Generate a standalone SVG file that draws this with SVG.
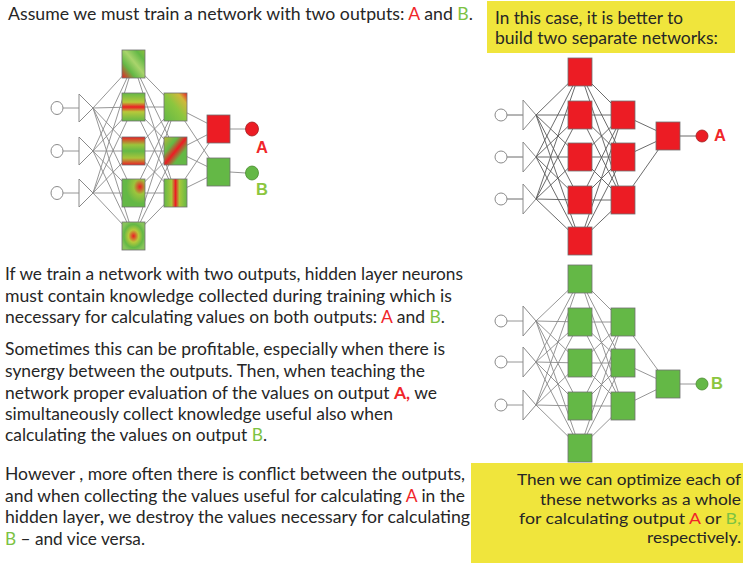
<svg xmlns="http://www.w3.org/2000/svg" width="743" height="563" viewBox="0 0 743 563">
<style>
.t{font-family:Lato,"Liberation Sans",sans-serif;font-size:16.3px;fill:#262626}
.tb{font-size:16px}
.ra{fill:#f0262a}
.gb{fill:#7cc242}
.lbl{font-family:"Liberation Sans",Arial,sans-serif;font-weight:bold;font-size:16.5px}
.cn{stroke:#8a8a8a;stroke-width:0.9;fill:none}
.cd{stroke:#5a5a5a;stroke-width:0.9;fill:none}
.inp{fill:#fff;stroke:#8a8a8a;stroke-width:1}
.tri{fill:#fff;stroke:#8a8a8a;stroke-width:1}
.sq{stroke:#707070;stroke-width:0.8}
.red{fill:#ec1c24}
.grn{fill:#64b846}
.box{fill:#f0e53c}
</style>
<defs>
<linearGradient id="g1" x1="0" y1="1" x2="1" y2="0"><stop offset="0" stop-color="#ec1c24"/><stop offset="0.3" stop-color="#64b846"/><stop offset="0.55" stop-color="#a9d46c"/><stop offset="0.8" stop-color="#64b846"/><stop offset="1" stop-color="#8cbf3c"/></linearGradient>
<linearGradient id="g2" x1="0" y1="0" x2="0" y2="1"><stop offset="0" stop-color="#64b846"/><stop offset="0.33" stop-color="#b8c93a"/><stop offset="0.5" stop-color="#ec1c24"/><stop offset="0.67" stop-color="#b8c93a"/><stop offset="1" stop-color="#64b846"/></linearGradient>
<linearGradient id="g3" x1="0" y1="0" x2="0" y2="1"><stop offset="0" stop-color="#ec1c24"/><stop offset="0.28" stop-color="#9cc43c"/><stop offset="0.5" stop-color="#64b846"/><stop offset="0.75" stop-color="#a8c43a"/><stop offset="1" stop-color="#ec1c24"/></linearGradient>
<radialGradient id="g4" cx="0.78" cy="0.28" r="0.6"><stop offset="0" stop-color="#ec1c24"/><stop offset="0.45" stop-color="#9cc43c"/><stop offset="1" stop-color="#64b846"/></radialGradient>
<radialGradient id="g5" cx="0.5" cy="0.5" r="0.55"><stop offset="0" stop-color="#ec1c24"/><stop offset="0.4" stop-color="#b8c93a"/><stop offset="0.75" stop-color="#64b846"/><stop offset="1" stop-color="#86c45a"/></radialGradient>
<linearGradient id="h1" x1="0" y1="1" x2="1" y2="0"><stop offset="0" stop-color="#64b846"/><stop offset="0.5" stop-color="#8cc63f"/><stop offset="0.8" stop-color="#d0b83a"/><stop offset="1" stop-color="#ec1c24"/></linearGradient>
<linearGradient id="h2" x1="0" y1="0" x2="1" y2="1"><stop offset="0" stop-color="#b8b83a"/><stop offset="0.3" stop-color="#64b846"/><stop offset="0.5" stop-color="#ec1c24"/><stop offset="0.7" stop-color="#64b846"/><stop offset="1" stop-color="#64b846"/></linearGradient>
<linearGradient id="h3" x1="0" y1="0" x2="1" y2="0"><stop offset="0" stop-color="#64b846"/><stop offset="0.33" stop-color="#a8c83a"/><stop offset="0.5" stop-color="#ec1c24"/><stop offset="0.67" stop-color="#a8c83a"/><stop offset="1" stop-color="#64b846"/></linearGradient>
</defs>
<rect width="743" height="563" fill="#fff"/>

<g id="boxes">
<rect id="box-top" class="box" x="487" y="1" width="248" height="52"/>
<rect id="box-bottom" class="box" x="471" y="463" width="272" height="100"/>
</g>

<g id="connectors">
<!-- left network -->
<path class="cn" d="M63 108H79M63 151H79M63 193H79"/>
<path class="cn" d="M93 108L133.5 64M93 108L133.5 107M93 108L133.5 151M93 108L133.5 193M93 108L133.5 236M93 151L133.5 64M93 151L133.5 107M93 151L133.5 151M93 151L133.5 193M93 151L133.5 236M93 193L133.5 64M93 193L133.5 107M93 193L133.5 151M93 193L133.5 193M93 193L133.5 236"/>
<path class="cn" d="M133.5 64L175.5 107M133.5 64L175.5 151M133.5 64L175.5 193M133.5 107L175.5 107M133.5 107L175.5 151M133.5 107L175.5 193M133.5 151L175.5 107M133.5 151L175.5 151M133.5 151L175.5 193M133.5 193L175.5 107M133.5 193L175.5 151M133.5 193L175.5 193M133.5 236L175.5 107M133.5 236L175.5 151M133.5 236L175.5 193"/>
<path class="cn" d="M175.5 107L218.5 129M175.5 107L218.5 172M175.5 151L218.5 129M175.5 151L218.5 172M175.5 193L218.5 129M175.5 193L218.5 172"/>
<path class="cn" d="M230 129H246M230 172L246 173"/>
<!-- right top network -->
<path class="cd" d="M507 115H523M507 157H523M507 199H523"/>
<path class="cd" d="M536 115L580 72M536 115L580 115M536 115L580 157M536 115L580 200M536 115L580 241M536 157L580 72M536 157L580 115M536 157L580 157M536 157L580 200M536 157L580 241M536 199L580 72M536 199L580 115M536 199L580 157M536 199L580 200M536 199L580 241"/>
<path class="cd" d="M580 72L623 115M580 72L623 157M580 72L623 200M580 115L623 115M580 115L623 157M580 115L623 200M580 157L623 115M580 157L623 157M580 157L623 200M580 200L623 115M580 200L623 157M580 200L623 200M580 241L623 115M580 241L623 157M580 241L623 200"/>
<path class="cd" d="M623 115L668 136M623 157L668 136M623 200L668 136M680 136H696"/>
<!-- right bottom network -->
<path class="cn" d="M507 321H523M507 362H523M507 405H523"/>
<path class="cn" d="M536 321L580 279M536 321L580 322M536 321L580 363M536 321L580 406M536 321L580 448M536 362L580 279M536 362L580 322M536 362L580 363M536 362L580 406M536 362L580 448M536 405L580 279M536 405L580 322M536 405L580 363M536 405L580 406M536 405L580 448"/>
<path class="cn" d="M580 279L623 322M580 279L623 363M580 279L623 406M580 322L623 322M580 322L623 363M580 322L623 406M580 363L623 322M580 363L623 363M580 363L623 406M580 406L623 322M580 406L623 363M580 406L623 406M580 448L623 322M580 448L623 363M580 448L623 406"/>
<path class="cn" d="M623 322L668 384M623 363L668 384M623 406L668 384M680 384H696"/>
</g>

<!-- Left network nodes -->
<g id="L-in1"><ellipse class="inp" cx="57" cy="108" rx="6" ry="6.5"/></g>
<g id="L-in2"><ellipse class="inp" cx="57" cy="151" rx="6" ry="6.5"/></g>
<g id="L-in3"><ellipse class="inp" cx="57" cy="193" rx="6" ry="6.5"/></g>
<g id="L-tri1"><polygon class="tri" points="79,94 79,122 93,108"/></g>
<g id="L-tri2"><polygon class="tri" points="79,137 79,165 93,151"/></g>
<g id="L-tri3"><polygon class="tri" points="79,179 79,207 93,193"/></g>
<g id="L-h1a"><rect class="sq" x="122" y="50" width="23" height="28" fill="url(#g1)"/></g>
<g id="L-h1b"><rect class="sq" x="122" y="93" width="23" height="28" fill="url(#g2)"/></g>
<g id="L-h1c"><rect class="sq" x="122" y="137" width="23" height="28" fill="url(#g3)"/></g>
<g id="L-h1d"><rect class="sq" x="122" y="179" width="23" height="28" fill="url(#g4)"/></g>
<g id="L-h1e"><rect class="sq" x="122" y="222" width="23" height="28" fill="url(#g5)" stroke="#6a8fb0"/></g>
<g id="L-h2a"><rect class="sq" x="164" y="93" width="23" height="28" fill="url(#h1)"/></g>
<g id="L-h2b"><rect class="sq" x="164" y="137" width="23" height="28" fill="url(#h2)"/></g>
<g id="L-h2c"><rect class="sq" x="164" y="179" width="23" height="28" fill="url(#h3)"/></g>
<g id="L-outA"><rect class="sq red" x="207" y="115" width="23" height="28"/></g>
<g id="L-outB"><rect class="sq grn" x="207" y="158" width="23" height="28"/></g>
<g id="L-yA"><ellipse class="red" cx="252" cy="129" rx="6.5" ry="7" stroke="#a02020" stroke-width="0.8"/><text class="lbl ra" x="256" y="153">A</text></g>
<g id="L-yB"><ellipse class="grn" cx="252" cy="173" rx="6.5" ry="7" stroke="#4a8a30" stroke-width="0.8"/><text class="lbl" x="256" y="195" fill="#8cc63f">B</text></g>

<!-- Right top network nodes -->
<g id="A-in1"><circle class="inp" cx="501" cy="115" r="6"/></g>
<g id="A-in2"><circle class="inp" cx="501" cy="157" r="6"/></g>
<g id="A-in3"><circle class="inp" cx="501" cy="199" r="6"/></g>
<g id="A-tri1"><polygon class="tri" points="523,100 523,130 536,115"/></g>
<g id="A-tri2"><polygon class="tri" points="523,142 523,172 536,157"/></g>
<g id="A-tri3"><polygon class="tri" points="523,184 523,214 536,199"/></g>
<g id="A-h1a"><rect class="sq red" x="568" y="58" width="24" height="28"/></g>
<g id="A-h1b"><rect class="sq red" x="568" y="101" width="24" height="28"/></g>
<g id="A-h1c"><rect class="sq red" x="568" y="143" width="24" height="28"/></g>
<g id="A-h1d"><rect class="sq red" x="568" y="186" width="24" height="28"/></g>
<g id="A-h1e"><rect class="sq red" x="568" y="227" width="24" height="28"/></g>
<g id="A-h2a"><rect class="sq red" x="611" y="101" width="24" height="28"/></g>
<g id="A-h2b"><rect class="sq red" x="611" y="143" width="24" height="28"/></g>
<g id="A-h2c"><rect class="sq red" x="611" y="186" width="24" height="28"/></g>
<g id="A-out"><rect class="sq red" x="656" y="122" width="24" height="28"/></g>
<g id="A-y"><circle class="red" cx="702" cy="136" r="6" stroke="#a02020" stroke-width="0.8"/><text class="lbl ra" x="714" y="141">A</text></g>

<!-- Right bottom network nodes -->
<g id="B-in1"><circle class="inp" cx="501" cy="321" r="6"/></g>
<g id="B-in2"><circle class="inp" cx="501" cy="362" r="6"/></g>
<g id="B-in3"><circle class="inp" cx="501" cy="405" r="6"/></g>
<g id="B-tri1"><polygon class="tri" points="523,306 523,336 536,321"/></g>
<g id="B-tri2"><polygon class="tri" points="523,347 523,377 536,362"/></g>
<g id="B-tri3"><polygon class="tri" points="523,390 523,420 536,405"/></g>
<g id="B-h1a"><rect class="sq grn" x="568" y="265" width="24" height="28"/></g>
<g id="B-h1b"><rect class="sq grn" x="568" y="308" width="24" height="28"/></g>
<g id="B-h1c"><rect class="sq grn" x="568" y="349" width="24" height="28"/></g>
<g id="B-h1d"><rect class="sq grn" x="568" y="392" width="24" height="28"/></g>
<g id="B-h1e"><rect class="sq grn" x="568" y="434" width="24" height="28"/></g>
<g id="B-h2a"><rect class="sq grn" x="611" y="308" width="24" height="28"/></g>
<g id="B-h2b"><rect class="sq grn" x="611" y="349" width="24" height="28"/></g>
<g id="B-h2c"><rect class="sq grn" x="611" y="392" width="24" height="28"/></g>
<g id="B-out"><rect class="sq grn" x="656" y="370" width="24" height="28"/></g>
<g id="B-y"><circle class="grn" cx="702" cy="384" r="6" stroke="#4a8a30" stroke-width="0.8"/><text class="lbl" x="711" y="389" fill="#8cc63f">B</text></g>

<!-- Texts -->
<g id="texts">
<text class="t" x="8" y="20" textLength="465" lengthAdjust="spacingAndGlyphs">Assume we must train a network with two outputs: <tspan class="ra">A</tspan> and <tspan class="gb">B</tspan>.</text>

<text class="t" x="495" y="24" textLength="188" lengthAdjust="spacingAndGlyphs">In this case, it is better to</text>
<text class="t" x="495" y="44" textLength="223" lengthAdjust="spacingAndGlyphs">build two separate networks:</text>

<text class="t" x="5" y="280" textLength="458" lengthAdjust="spacingAndGlyphs">If we train a network with two outputs, hidden layer neurons</text>
<text class="t" x="5" y="302" textLength="447" lengthAdjust="spacingAndGlyphs">must contain knowledge  collected during training which is</text>
<text class="t" x="5" y="323" textLength="440" lengthAdjust="spacingAndGlyphs">necessary for calculating values on both outputs: <tspan class="ra">A</tspan> and <tspan class="gb">B</tspan>.</text>

<text class="t" x="5" y="355" textLength="440" lengthAdjust="spacingAndGlyphs">Sometimes this can be profitable, especially when there is</text>
<text class="t" x="5" y="377" textLength="420" lengthAdjust="spacingAndGlyphs">synergy between the outputs. Then, when teaching the</text>
<text class="t" x="5" y="399" textLength="432" lengthAdjust="spacingAndGlyphs">network proper evaluation of the values on output <tspan class="ra" font-weight="bold">A,</tspan> we</text>
<text class="t" x="5" y="420" textLength="388" lengthAdjust="spacingAndGlyphs">simultaneously collect knowledge useful also when</text>
<text class="t" x="5" y="441" textLength="262" lengthAdjust="spacingAndGlyphs">calculating the values on output <tspan class="gb">B</tspan>.</text>

<text class="t" x="5" y="480" textLength="460" lengthAdjust="spacingAndGlyphs">However , more often there is conflict between the outputs,</text>
<text class="t" x="5" y="502" textLength="460" lengthAdjust="spacingAndGlyphs">and when collecting the values useful for calculating <tspan class="ra">A</tspan> in the</text>
<text class="t" x="5" y="523" textLength="465" lengthAdjust="spacingAndGlyphs">hidden layer<tspan font-weight="bold">,</tspan> we destroy  the values necessary for calculating</text>
<text class="t" x="5" y="545" textLength="140" lengthAdjust="spacingAndGlyphs"><tspan class="gb">B</tspan> – and vice versa.</text>

<text class="t tb" x="517" y="485" textLength="224" lengthAdjust="spacingAndGlyphs">Then we can optimize each of</text>
<text class="t tb" x="540" y="505" textLength="201" lengthAdjust="spacingAndGlyphs">these networks as a whole</text>
<text class="t tb" x="519" y="524" textLength="222" lengthAdjust="spacingAndGlyphs">for calculating  output <tspan class="ra">A</tspan> or <tspan class="gb">B,</tspan></text>
<text class="t tb" x="647" y="543" textLength="94" lengthAdjust="spacingAndGlyphs">respectively.</text>
</g>
</svg>
